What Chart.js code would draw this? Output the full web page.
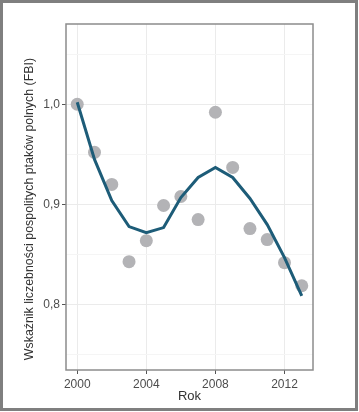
<!DOCTYPE html>
<html>
<head>
<meta charset="utf-8">
<script src="https://cdn.jsdelivr.net/npm/chart.js@4"></script>
<style>
  html, body { margin: 0; padding: 0; background: #fff; }
  #wrap { width: 359px; height: 412px; position: relative; }
</style>
</head>
<body>
<div id="wrap"><canvas id="fbi"></canvas></div>
<script>
// years and index values
const years = [2000, 2001, 2002, 2003, 2004, 2005, 2006, 2007, 2008, 2009, 2010, 2011, 2012, 2013];
const fbiObserved = [1.000, 0.952, 0.920, 0.843, 0.864, 0.899, 0.908, 0.885, 0.992, 0.937, 0.876, 0.865, 0.842, 0.819];
const fbiSmoothed = [1.002, 0.945, 0.904, 0.878, 0.872, 0.877, 0.907, 0.927, 0.937, 0.927, 0.906, 0.880, 0.847, 0.809];

const xTicks = [2000, 2004, 2008, 2012];
const yMajor = [0.8, 0.9, 1.0];
const yGrid = [0.75, 0.8, 0.85, 0.9, 0.95, 1.0, 1.05];

const isMajor = v => yMajor.some(m => Math.abs(m - v) < 1e-6);

// frame around the panel and around the whole figure
const frames = {
  id: 'frames',
  afterDraw(chart) {
    const ctx = chart.ctx;
    const a = chart.chartArea;
    ctx.save();
    ctx.strokeStyle = '#8c8c8c';
    ctx.lineWidth = 1.5;
    ctx.strokeRect(a.left, a.top, a.right - a.left, a.bottom - a.top);
    ctx.strokeStyle = '#7f7f7f';
    ctx.lineWidth = 3;
    ctx.strokeRect(1.5, 1.5, 355, 408);
    ctx.restore();
  }
};

new Chart(document.getElementById('fbi'), {
  type: 'scatter',
  data: {
    datasets: [
      {
        label: 'trend',
        data: years.map((y, i) => ({x: y, y: fbiSmoothed[i]})),
        showLine: true,
        borderColor: '#1d5c78',
        borderWidth: 3,
        pointRadius: 0,
        tension: 0,
        order: 0
      },
      {
        label: 'FBI',
        data: years.map((y, i) => ({x: y, y: fbiObserved[i]})),
        backgroundColor: '#b3b3b6',
        borderWidth: 0,
        pointRadius: 6.5,
        order: 1
      }
    ]
  },
  options: {
    responsive: true,
    maintainAspectRatio: false,
    animation: false,
    layout: { padding: { left: 18, right: 46, top: 24, bottom: 0 } },
    plugins: {
      legend: { display: false },
      tooltip: { enabled: false }
    },
    scales: {
      x: {
        type: 'linear',
        min: 1999.35,
        max: 2013.65,
        afterBuildTicks: scale => { scale.ticks = xTicks.map(v => ({value: v})); },
        afterFit: scale => { scale.height = 42; },
        border: { display: false },
        grid: { color: '#ebebeb', lineWidth: 1, tickLength: 4, tickColor: '#555' },
        ticks: {
          color: '#4d4d4d',
          padding: 3,
          font: { family: 'Liberation Sans', size: 12 },
          callback: v => String(v)
        },
        title: {
          display: true,
          text: 'Rok',
          color: '#333',
          font: { family: 'Liberation Sans', size: 13 },
          padding: { top: 0, bottom: 8 }
        }
      },
      y: {
        type: 'linear',
        min: 0.735,
        max: 1.08,
        afterBuildTicks: scale => { scale.ticks = yGrid.map(v => ({value: v})); },
        afterFit: scale => { scale.width = 48; },
        border: { display: false },
        grid: {
          color: ctx => isMajor(ctx.tick.value) ? '#ebebeb' : '#f5f5f5',
          lineWidth: 1,
          tickLength: 4,
          tickColor: ctx => isMajor(ctx.tick.value) ? '#555' : 'rgba(0,0,0,0)'
        },
        ticks: {
          color: '#4d4d4d',
          padding: 2,
          font: { family: 'Liberation Sans', size: 12 },
          callback: v => isMajor(v) ? v.toFixed(1).replace('.', ',') : ''
        },
        title: {
          display: true,
          // trailing spaces push the centred text down a little, as in the original
          text: 'Wskaźnik liczebności pospolitych ptaków polnych (FBI)       ',
          color: '#333',
          font: { family: 'Liberation Sans', size: 12.4 },
          padding: { top: 4, bottom: 0 }
        }
      }
    }
  },
  plugins: [frames]
});
</script>
</body>
</html>
